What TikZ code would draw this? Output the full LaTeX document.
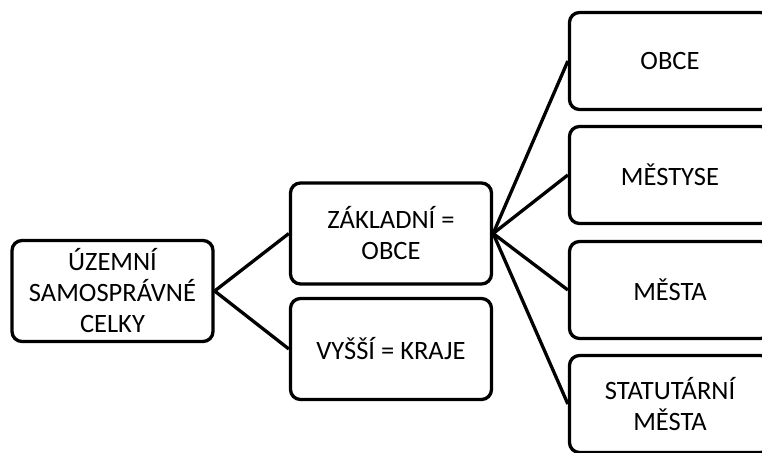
\documentclass[tikz,border=0pt]{standalone}
\usepackage{fontspec}
\setmainfont{Carlito}
\usetikzlibrary{positioning}
\tikzset{
  box/.style={draw=black,line width=3.3pt,rounded corners=10pt,fill=white,align=center,
    font=\fontsize{26.5}{31}\selectfont,inner sep=0pt},
  link/.style={line width=3.3pt}
}

\begin{document}
\begin{tikzpicture}[x=1pt,y=-1pt]
				%%%%% START %%%%%
				\def\boxw{201pt}
				\def\boxh{101pt}
				\def\boxhr{97pt}
				\def\xone{112.5}
				\def\xtwo{391}
				\def\xthr{670}

				\useasboundingbox (0,0) rectangle (762,452);
				\clip (0,0) rectangle (762,452);

				\node[box,minimum width=\boxw,minimum height=\boxh] (uzsc) at (\xone,291) {ÚZEMNÍ\\SAMOSPRÁVNÉ\\CELKY};

				\node[box,minimum width=\boxw,minimum height=\boxh] (zakl) at (\xtwo,233.5) {ZÁKLADNÍ =\\OBCE};
				\node[box,minimum width=\boxw,minimum height=\boxh] (vyssi) at (\xtwo,349) {VYŠŠÍ = KRAJE};

				\node[box,minimum width=\boxw,minimum height=\boxhr] (obce) at (\xthr,61) {OBCE};
				\node[box,minimum width=\boxw,minimum height=\boxhr] (mestyse) at (\xthr,175) {MĚSTYSE};
				\node[box,minimum width=\boxw,minimum height=\boxhr] (mesta) at (\xthr,290) {MĚSTA};
				\node[box,minimum width=\boxw,minimum height=\boxhr] (stat) at (\xthr,404) {STATUTÁRNÍ\\MĚSTA};

				\draw[link] (uzsc.east) -- (zakl.west);
				\draw[link] (uzsc.east) -- (vyssi.west);

				\draw[link] (zakl.east) -- (obce.west);
				\draw[link] (zakl.east) -- (mestyse.west);
				\draw[link] (zakl.east) -- (mesta.west);
				\draw[link] (zakl.east) -- (stat.west);
				%%%%% END %%%%%
\end{tikzpicture}
\end{document}
